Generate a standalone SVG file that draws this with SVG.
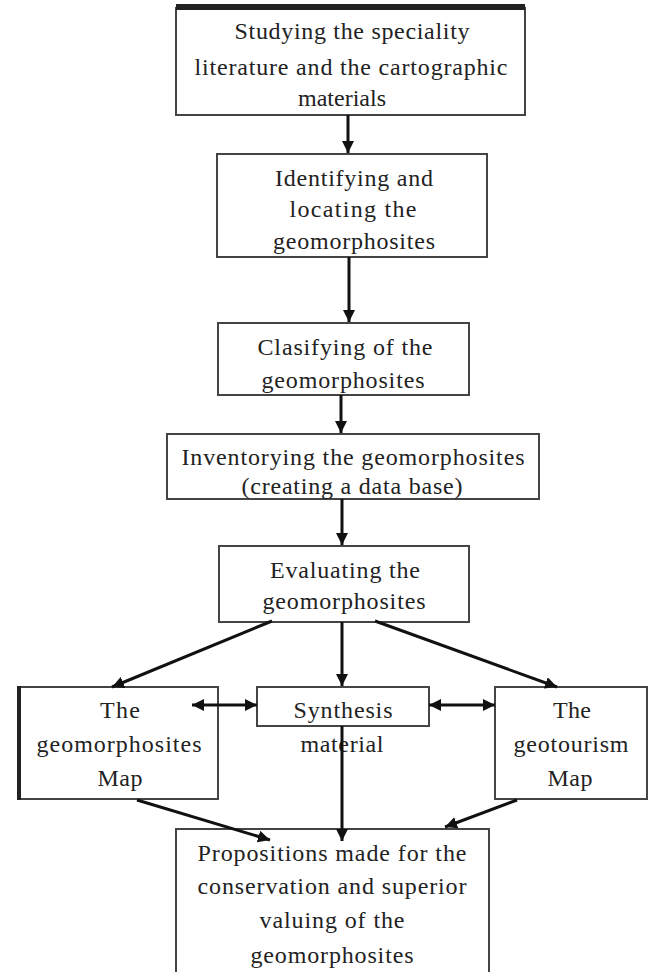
<svg xmlns="http://www.w3.org/2000/svg" width="652" height="972" viewBox="0 0 652 972">
<style>
.box{fill:#fff;stroke:#444;stroke-width:2}
.t{font-family:"Liberation Serif","Times New Roman",serif;font-size:24px;fill:#222;text-anchor:middle}
.c{stroke:#111;stroke-width:3;fill:none}
</style>
<defs>
<marker id="ah" viewBox="0 0 12 12" refX="12" refY="6" markerWidth="12" markerHeight="12" markerUnits="userSpaceOnUse" orient="auto-start-reverse">
<path d="M0,0 L12,6 L0,12 Z" fill="#111"/>
</marker>
</defs>
<rect width="652" height="972" fill="#fff"/>
<g id="n1">
<rect class="box" x="176" y="8" width="349" height="107"/>
<rect x="176" y="4" width="349" height="6" fill="#222"/>
<text class="t" x="352" y="39" textLength="235" lengthAdjust="spacing">Studying the speciality</text>
<text class="t" x="351" y="75" textLength="313" lengthAdjust="spacing">literature and the cartographic</text>
<text class="t" x="342" y="106">materials</text>
</g>
<g id="n2">
<rect class="box" x="217" y="154" width="270" height="103"/>
<text class="t" x="354" y="186" textLength="158" lengthAdjust="spacing">Identifying and</text>
<text class="t" x="353" y="217" textLength="127" lengthAdjust="spacing">locating the</text>
<text class="t" x="354" y="249" textLength="162" lengthAdjust="spacing">geomorphosites</text>
</g>
<g id="n3">
<rect class="box" x="218" y="323" width="251" height="72"/>
<text class="t" x="345" y="355" textLength="175" lengthAdjust="spacing">Clasifying of the</text>
<text class="t" x="343" y="388" textLength="163" lengthAdjust="spacing">geomorphosites</text>
</g>
<g id="n4">
<rect class="box" x="167" y="434" width="372" height="65"/>
<text class="t" x="353" y="465" textLength="343" lengthAdjust="spacing">Inventorying the geomorphosites</text>
<text class="t" x="352" y="494" textLength="221" lengthAdjust="spacing">(creating a data base)</text>
</g>
<g id="n5">
<rect class="box" x="219" y="546" width="250" height="76"/>
<text class="t" x="345" y="578" textLength="150" lengthAdjust="spacing">Evaluating the</text>
<text class="t" x="344" y="609" textLength="163" lengthAdjust="spacing">geomorphosites</text>
</g>
<g id="n6">
<rect class="box" x="18" y="687" width="200" height="112"/>
<line x1="19" y1="686" x2="19" y2="800" stroke="#222" stroke-width="4"/>
<text class="t" x="120" y="718" textLength="40" lengthAdjust="spacing">The</text>
<text class="t" x="119" y="752" textLength="165" lengthAdjust="spacing">geomorphosites</text>
<text class="t" x="120" y="786" textLength="45" lengthAdjust="spacing">Map</text>
</g>
<g id="n7">
<rect class="box" x="257" y="687" width="172" height="39"/>
<text class="t" x="343" y="718" textLength="99" lengthAdjust="spacing">Synthesis</text>
<text class="t" x="342" y="752" textLength="83" lengthAdjust="spacing">material</text>
</g>
<g id="n8">
<rect class="box" x="495" y="687" width="152" height="112"/>
<text class="t" x="572" y="718" textLength="38" lengthAdjust="spacing">The</text>
<text class="t" x="571" y="752" textLength="115" lengthAdjust="spacing">geotourism</text>
<text class="t" x="570" y="786" textLength="45" lengthAdjust="spacing">Map</text>
</g>
<g id="n9">
<rect class="box" x="176" y="829" width="313" height="160"/>
<text class="t" x="332" y="861" textLength="269" lengthAdjust="spacing">Propositions made for the</text>
<text class="t" x="332" y="894" textLength="269" lengthAdjust="spacing">conservation and superior</text>
<text class="t" x="332" y="928" textLength="145" lengthAdjust="spacing">valuing of the</text>
<text class="t" x="332" y="963" textLength="163" lengthAdjust="spacing">geomorphosites</text>
</g>
<g id="connectors">
<line class="c" x1="348" y1="115" x2="348" y2="153" marker-end="url(#ah)"/>
<line class="c" x1="349" y1="257" x2="349" y2="322" marker-end="url(#ah)"/>
<line class="c" x1="341" y1="395" x2="341" y2="433" marker-end="url(#ah)"/>
<line class="c" x1="342" y1="499" x2="342" y2="545" marker-end="url(#ah)"/>
<line class="c" x1="272" y1="621" x2="112" y2="687" marker-end="url(#ah)"/>
<line class="c" x1="342" y1="622" x2="342" y2="686" marker-end="url(#ah)"/>
<line class="c" x1="375" y1="621" x2="557" y2="687" marker-end="url(#ah)"/>
<line class="c" x1="192" y1="705" x2="257" y2="705" marker-start="url(#ah)" marker-end="url(#ah)"/>
<line class="c" x1="429" y1="705" x2="495" y2="705" marker-start="url(#ah)" marker-end="url(#ah)"/>
<line class="c" x1="137" y1="800" x2="270" y2="840" marker-end="url(#ah)"/>
<line class="c" x1="342" y1="726" x2="342" y2="841" marker-end="url(#ah)"/>
<line class="c" x1="517" y1="800" x2="445" y2="827" marker-end="url(#ah)"/>
</g>
</svg>
